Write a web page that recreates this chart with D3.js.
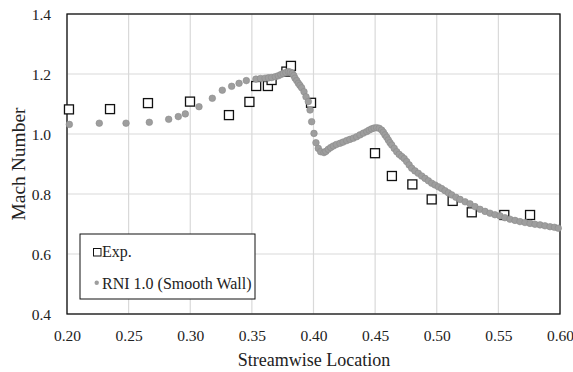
<!DOCTYPE html>
<html>
<head>
<meta charset="utf-8">
<script src="https://cdn.jsdelivr.net/npm/d3@7"></script>
<style>
  body { margin: 0; background: #fff; }
</style>
</head>
<body>
<div id="chart"></div>
<script>
// experimental data (squares)
const expX = [0.2016, 0.2349, 0.2657, 0.2998, 0.3314, 0.3480, 0.3535, 0.3630, 0.3660, 0.3780, 0.3817, 0.3980,
  0.4499, 0.4636, 0.4802, 0.4959, 0.5129, 0.5284, 0.5548, 0.5757]
const expY = [1.082, 1.083, 1.103, 1.108, 1.063, 1.107, 1.160, 1.160, 1.180, 1.208, 1.227, 1.104,
  0.936, 0.860, 0.832, 0.782, 0.777, 0.739, 0.730, 0.730]

// RNI 1.0 (Smooth Wall) CFD points (circles)
const cfdX = [0.2019, 0.2262, 0.2479, 0.2668, 0.2825, 0.2903, 0.2960, 0.3071, 0.3179, 0.3260, 0.3336, 0.3396, 0.3455,
  0.3533, 0.3570, 0.3607, 0.3635, 0.3661, 0.3690, 0.3714, 0.3735, 0.3755, 0.3776, 0.3796, 0.3812, 0.3828, 0.3840,
  0.3850, 0.3864, 0.3877, 0.3890, 0.3904, 0.3923, 0.3939, 0.3958, 0.3972, 0.3985, 0.4004, 0.4020, 0.4039, 0.4058,
  0.4085, 0.4100, 0.4120, 0.4140, 0.4161, 0.4185, 0.4215, 0.4240, 0.4269, 0.4295, 0.4323, 0.4350, 0.4377, 0.4405,
  0.4432, 0.4452, 0.4472, 0.4492, 0.4513, 0.4533, 0.4553, 0.4567, 0.4580, 0.4594, 0.4607, 0.4621, 0.4635, 0.4655,
  0.4675, 0.4695, 0.4716, 0.4736, 0.4756, 0.4776, 0.4797, 0.4823, 0.4850, 0.4878, 0.4905, 0.4932, 0.4959, 0.4986,
  0.5013, 0.5040, 0.5067, 0.5094, 0.5121, 0.5155, 0.5189, 0.5230, 0.5270, 0.5310, 0.5351, 0.5392, 0.5432, 0.5472,
  0.5513, 0.5553, 0.5594, 0.5635, 0.5675, 0.5716, 0.5757, 0.5797, 0.5838, 0.5878, 0.5919, 0.5955, 0.5986]
const cfdY = [1.032, 1.036, 1.036, 1.039, 1.049, 1.058, 1.067, 1.091, 1.119, 1.146, 1.159, 1.169, 1.178,
  1.183, 1.185, 1.186, 1.187, 1.188, 1.191, 1.194, 1.198, 1.202, 1.205, 1.208, 1.206, 1.202, 1.195,
  1.186, 1.178, 1.169, 1.162, 1.154, 1.141, 1.124, 1.108, 1.080, 1.041, 1.002, 0.971, 0.952, 0.941,
  0.938, 0.942, 0.949, 0.955, 0.960, 0.965, 0.969, 0.973, 0.978, 0.982, 0.986, 0.991, 0.997, 1.003,
  1.008, 1.013, 1.017, 1.020, 1.021, 1.019, 1.013, 1.006, 0.997, 0.989, 0.980, 0.971, 0.963, 0.952,
  0.941, 0.932, 0.925, 0.918, 0.908, 0.897, 0.886, 0.877, 0.869, 0.860, 0.852, 0.844, 0.836, 0.830,
  0.824, 0.818, 0.811, 0.804, 0.797, 0.789, 0.782, 0.774, 0.767, 0.758, 0.749, 0.742, 0.736, 0.731,
  0.727, 0.721, 0.716, 0.712, 0.708, 0.705, 0.702, 0.699, 0.697, 0.694, 0.691, 0.689, 0.686]

const xTicks = [0.20, 0.25, 0.30, 0.35, 0.40, 0.45, 0.50, 0.55, 0.60]
const yTicks = [0.4, 0.6, 0.8, 1.0, 1.2, 1.4]
const seriesNames = ['Exp.', 'RNI 1.0 (Smooth Wall)']

const FONT = "Liberation Serif, Tinos, Times New Roman, Times, DejaVu Serif, serif"

const W = 573, H = 372
const margin = { top: 14, right: 13, bottom: 58, left: 67 }
const width = W - margin.left - margin.right
const height = H - margin.top - margin.bottom

const svg = d3.select('#chart').append('svg').attr('width', W).attr('height', H)
  .attr('font-family', FONT)
const g = svg.append('g').attr('transform', `translate(${margin.left},${margin.top})`)

const x = d3.scaleLinear().domain([0.2, 0.6]).range([0, width])
const y = d3.scaleLinear().domain([0.4, 1.4]).range([height, 0])

// gridlines
g.append('g').selectAll('line').data(xTicks).join('line')
  .attr('x1', d => x(d)).attr('x2', d => x(d)).attr('y1', 0).attr('y2', height)
  .attr('stroke', '#d9d9d9').attr('stroke-width', 1.2)
g.append('g').selectAll('line').data(yTicks).join('line')
  .attr('x1', 0).attr('x2', width).attr('y1', d => y(d)).attr('y2', d => y(d))
  .attr('stroke', '#d9d9d9').attr('stroke-width', 1.2)

// axes (labels only)
const xAxis = g.append('g').attr('transform', `translate(0,${height})`)
  .call(d3.axisBottom(x).tickValues(xTicks).tickFormat(d3.format('.2f')).tickSize(0).tickPadding(16))
const yAxis = g.append('g')
  .call(d3.axisLeft(y).tickValues(yTicks).tickFormat(d3.format('.1f')).tickSize(0).tickPadding(16))
;[xAxis, yAxis].forEach(a => {
  a.attr('font-family', FONT).attr('font-size', 15.5)
  a.select('.domain').remove()
  a.selectAll('text').attr('fill', '#222')
})
yAxis.selectAll('text').attr('dy', '0.35em')

// plot frame
g.append('rect').attr('width', width).attr('height', height)
  .attr('fill', 'none').attr('stroke', '#111').attr('stroke-width', 1.3)

// experimental squares
const sq = 9
g.append('g').selectAll('rect').data(expX.map((d, i) => [d, expY[i]])).join('rect')
  .attr('x', d => x(d[0]) - sq / 2).attr('y', d => y(d[1]) - sq / 2)
  .attr('width', sq).attr('height', sq)
  .attr('fill', '#fff').attr('stroke', '#111').attr('stroke-width', 1.3)

// CFD circles
g.append('g').selectAll('circle').data(cfdX.map((d, i) => [d, cfdY[i]])).join('circle')
  .attr('cx', d => x(d[0])).attr('cy', d => y(d[1])).attr('r', 3.3)
  .attr('fill', '#9e9e9e').attr('stroke', '#8c8c8c').attr('stroke-width', 0.6)

// axis titles
svg.append('text').attr('x', 314).attr('y', 366)
  .attr('text-anchor', 'middle').attr('font-size', 18).attr('fill', '#222').text('Streamwise Location')
svg.append('text').attr('transform', `translate(25,${margin.top + height / 2}) rotate(-90)`)
  .attr('text-anchor', 'middle').attr('font-size', 19.5).attr('fill', '#222').text('Mach Number')

// legend
const lg = svg.append('g').attr('transform', 'translate(80,234)')
lg.append('rect').attr('width', 175).attr('height', 65)
  .attr('fill', '#fff').attr('stroke', '#111').attr('stroke-width', 1)
lg.append('rect').attr('x', 13.5).attr('y', 14.5).attr('width', 7.5).attr('height', 7.5)
  .attr('fill', '#fff').attr('stroke', '#111').attr('stroke-width', 1)
lg.append('circle').attr('cx', 16.7).attr('cy', 48.7).attr('r', 2.2).attr('fill', '#9e9e9e')
lg.selectAll('text.item').data(seriesNames).join('text').attr('class', 'item')
  .attr('x', 22).attr('y', (d, i) => 22.5 + i * 32.5).attr('font-size', 16).attr('fill', '#222').text(d => d)
</script>
</body>
</html>
